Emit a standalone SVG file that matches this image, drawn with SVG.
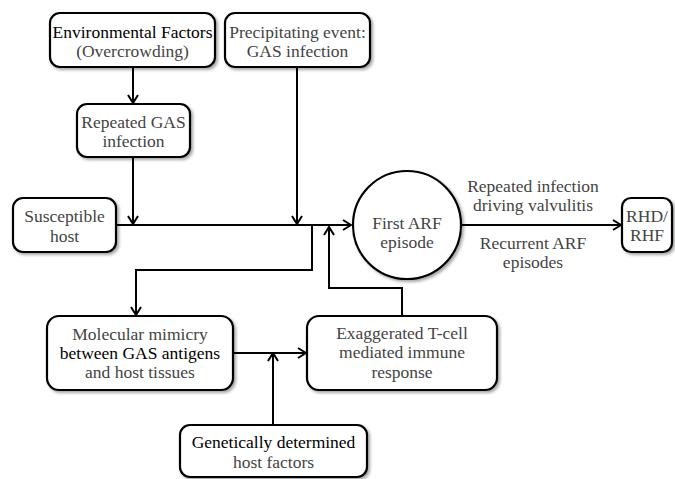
<svg xmlns="http://www.w3.org/2000/svg" width="675" height="479" viewBox="0 0 675 479">
<defs>
<style>
.box{fill:#fff;stroke:#000;stroke-width:2.2;filter:url(#sh)}
.t{font-family:"Liberation Serif","Times New Roman",serif;font-size:17.5px;fill:#444;text-anchor:middle}
.d{fill:#000}
.c{fill:none;stroke:#000;stroke-width:2}
</style>
<filter id="sh" x="-20%" y="-20%" width="140%" height="140%">
<feDropShadow dx="2" dy="2" stdDeviation="1.5" flood-color="#000" flood-opacity="0.35"/>
</filter>
<marker id="ah" viewBox="0 0 10 12" refX="9" refY="6" markerWidth="10" markerHeight="12" markerUnits="userSpaceOnUse" orient="auto">
<path d="M1,1 L9,6 L1,11" fill="none" stroke="#000" stroke-width="2"/>
</marker>
</defs>
<g id="connectors">
<path class="c" d="M133,67 V103" marker-end="url(#ah)"/>
<path class="c" d="M133,157 V224" marker-end="url(#ah)"/>
<path class="c" d="M297,67 V224" marker-end="url(#ah)"/>
<path class="c" d="M116,225 H351" marker-end="url(#ah)"/>
<path class="c" d="M312,225 V270 H136 V315" marker-end="url(#ah)"/>
<path class="c" d="M402,316 V288 H329 V227" marker-end="url(#ah)"/>
<path class="c" d="M233,353 H306" marker-end="url(#ah)"/>
<path class="c" d="M273,425 V353" marker-end="url(#ah)"/>
<path class="c" d="M462,225 H621" marker-end="url(#ah)"/>
</g>
<g id="env">
<rect class="box" x="50" y="13" width="165" height="54" rx="10"/>
<text class="t d" x="132.5" y="38">Environmental Factors</text>
<text class="t" x="132.5" y="57">(Overcrowding)</text>
</g>
<g id="precip">
<rect class="box" x="225" y="13" width="145" height="54" rx="10"/>
<text class="t" x="297.5" y="38">Precipitating event:</text>
<text class="t" x="297.5" y="57">GAS infection</text>
</g>
<g id="repeated">
<rect class="box" x="77" y="104" width="113" height="53" rx="10"/>
<text class="t" x="133.5" y="128">Repeated GAS</text>
<text class="t" x="133.5" y="147">infection</text>
</g>
<g id="susceptible">
<rect class="box" x="13" y="198" width="103" height="54" rx="10"/>
<text class="t" x="64.5" y="222">Susceptible</text>
<text class="t" x="64.5" y="242">host</text>
</g>
<g id="arf">
<circle class="box" cx="407" cy="225" r="54"/>
<text class="t" x="407" y="229">First ARF</text>
<text class="t" x="407" y="248">episode</text>
</g>
<g id="rhd">
<rect class="box" x="622" y="198" width="50" height="54" rx="9"/>
<text class="t" x="647" y="222">RHD/</text>
<text class="t" x="647" y="241">RHF</text>
</g>
<g id="labels">
<text class="t" x="533" y="192">Repeated infection</text>
<text class="t" x="533" y="211">driving valvulitis</text>
<text class="t" x="533" y="249">Recurrent ARF</text>
<text class="t" x="533" y="268">episodes</text>
</g>
<g id="mimicry">
<rect class="box" x="47" y="316" width="186" height="74" rx="12"/>
<text class="t" x="140" y="340">Molecular mimicry</text>
<text class="t d" x="140" y="359">between GAS antigens</text>
<text class="t" x="140" y="378">and host tissues</text>
</g>
<g id="tcell">
<rect class="box" x="307" y="316" width="190" height="74" rx="12"/>
<text class="t" x="402" y="339">Exaggerated T-cell</text>
<text class="t" x="402" y="358">mediated immune</text>
<text class="t" x="402" y="378">response</text>
</g>
<g id="genetic">
<rect class="box" x="180" y="425" width="187" height="52" rx="10"/>
<text class="t d" x="273.5" y="448">Genetically determined</text>
<text class="t" x="273.5" y="468">host factors</text>
</g>
</svg>
